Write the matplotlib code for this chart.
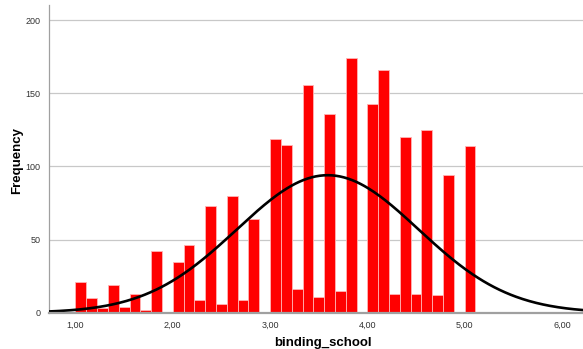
import numpy as np
import matplotlib
matplotlib.use("Agg")
import matplotlib.pyplot as plt

# scale values 1 .. 5 in steps of 1/9, one bin each
bin_width = 1 / 9
bin_starts = [1 + k / 9 for k in range(37)]
counts = [21, 10, 3, 19, 4, 13, 2, 42, 0, 35, 46, 9, 73, 6, 80, 9, 64, 0,
          119, 115, 16, 156, 11, 136, 15, 174, 0, 143, 166, 13, 120, 13, 125,
          12, 94, 0, 114]
x_ticks = [1, 2, 3, 4, 5, 6]
x_ticklabels = ["1,00", "2,00", "3,00", "4,00", "5,00", "6,00"]
y_ticks = [0, 50, 100, 150, 200]

plt.rcParams["font.family"] = ["Liberation Sans", "DejaVu Sans"]

fig = plt.figure(figsize=(5.83, 3.49), dpi=100)
ax = fig.add_axes([49 / 583, 0.104, 1 - 49 / 583, 0.882])

starts = np.array(bin_starts)
cnt = np.array(counts)
ax.bar(starts, cnt, width=bin_width, align="edge", color="#ff0000",
       edgecolor="#ffb4b4", linewidth=0.6, zorder=2)

# normal curve from the binned data
centers = starts + bin_width / 2
n = cnt.sum()
mu = (centers * cnt).sum() / n
sd = np.sqrt(((centers - mu) ** 2 * cnt).sum() / (n - 1))
xs = np.linspace(0.7, 6.25, 400)
ys = n * bin_width / (sd * np.sqrt(2 * np.pi)) * np.exp(-0.5 * ((xs - mu) / sd) ** 2)
ax.plot(xs, ys, color="black", linewidth=1.9, zorder=3)

ax.set_xlim(0.728, 6.216)
ax.set_ylim(0, 210.5)
ax.set_xticks(x_ticks)
ax.set_xticklabels(x_ticklabels)
ax.set_yticks(y_ticks)
ax.tick_params(length=0, labelsize=6.5, labelcolor="#333333", pad=6)
ax.yaxis.grid(True, color="#c8c8c8", linewidth=0.9, zorder=0)
ax.set_axisbelow(True)

for s in ("top", "right"):
    ax.spines[s].set_visible(False)
ax.spines["left"].set_color("#a0a0a0")
ax.spines["left"].set_linewidth(0.9)
ax.spines["bottom"].set_color("#a0a0a0")
ax.spines["bottom"].set_linewidth(1.6)
ax.spines["bottom"].set_zorder(4)

ax.set_xlabel("binding_school", fontsize=9.5, fontweight="bold", va="center")
ax.xaxis.set_label_coords(0.513, -0.0975)
ax.set_ylabel("Frequency", fontsize=9.5, fontweight="bold", va="center")
ax.yaxis.set_label_coords(-0.06, 0.496)

fig.savefig("out.png", dpi=100)
